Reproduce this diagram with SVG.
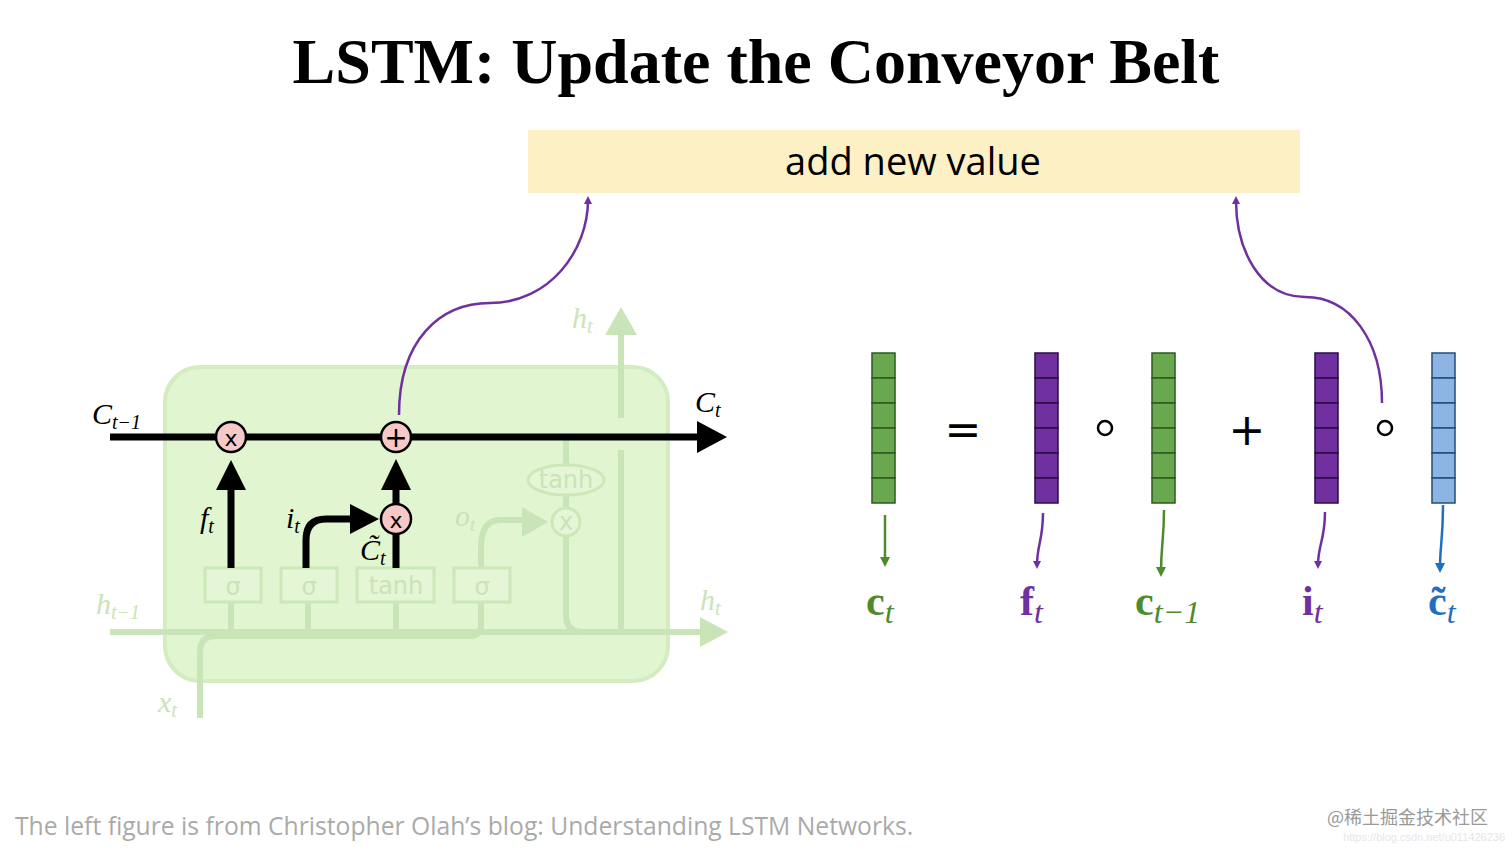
<svg xmlns="http://www.w3.org/2000/svg" width="1512" height="851" viewBox="0 0 1512 851">
<defs>
<style>
.f{stroke:#c9e4b6;fill:none;stroke-width:6}
.fb{fill:#e4f6d6;stroke:#cde8b8;stroke-width:3}
.ft{fill:#c9e4b6;font-family:"DejaVu Sans",sans-serif;font-size:24px}
.m{font-family:"Liberation Serif",serif;font-style:italic;font-size:30px}
.k{stroke:#000;stroke-width:7;fill:none}
.op{fill:#f6c8c8;stroke:#000;stroke-width:2.5}
.g{fill:#6aa84f;stroke:#2d5a1e;stroke-width:1.5}
.p{fill:#7030a0;stroke:#2a0c45;stroke-width:1.5}
.b{fill:#8eb4e3;stroke:#1f4e79;stroke-width:1.5}
.bl{font-family:"Liberation Serif",serif;font-weight:bold;font-size:42px}
.sub{font-family:"Liberation Serif",serif;font-style:italic;font-weight:normal;font-size:32px}
</style>
<marker id="ap" markerWidth="8" markerHeight="8" refX="4" refY="4" orient="auto" markerUnits="userSpaceOnUse"><path d="M0,0 L8,4 L0,8 Z" fill="#7030a0"/></marker>
<marker id="ag" markerWidth="10" markerHeight="10" refX="5" refY="5" orient="auto" markerUnits="userSpaceOnUse"><path d="M0,0 L10,5 L0,10 Z" fill="#4e8a2e"/></marker>
<marker id="ab" markerWidth="10" markerHeight="10" refX="5" refY="5" orient="auto" markerUnits="userSpaceOnUse"><path d="M0,0 L10,5 L0,10 Z" fill="#1f6fc0"/></marker>
</defs>
<rect width="1512" height="851" fill="#fff"/>
<text x="756" y="83" text-anchor="middle" font-family="Liberation Serif,serif" font-weight="bold" font-size="64">LSTM: Update the Conveyor Belt</text>
<g id="banner"><rect x="528" y="130" width="772" height="63" fill="#fdf0c4"/><text x="913" y="175" text-anchor="middle" font-family="Open Sans,sans-serif" font-size="38">add new value</text></g>
<g id="cell">
<rect x="165" y="367" width="503" height="314" rx="35" fill="#e0f5d0" stroke="#d3ecc0" stroke-width="4"/>
<path class="f" d="M110,632 H705"/><path d="M700,617 L728,632 L700,647Z" fill="#c9e4b6"/>
<path class="f" d="M200,718 V652 Q200,636 216,636 H470 Q481,636 481,625 V548 Q481,520 500,520 H525"/><path d="M522,507 L548,522 L522,537Z" fill="#c9e4b6"/>
<path class="f" d="M231,602 V632 M308,602 V632 M396,602 V632"/>
<path class="f" d="M566,452 V615 Q566,632 583,632 M566,437 V465 M566,495 V507"/>
<path class="f" d="M621,632 V450 M621,418 V335"/><path d="M605,335 L621,307 L637,335Z" fill="#c9e4b6"/>
<rect class="fb" x="205" y="568" width="56" height="34"/><rect class="fb" x="281" y="568" width="56" height="34"/><rect class="fb" x="357" y="568" width="77" height="34"/><rect class="fb" x="454" y="568" width="56" height="34"/>
<text class="ft" x="233" y="595" text-anchor="middle">σ</text><text class="ft" x="309" y="595" text-anchor="middle">σ</text><text class="ft" x="396" y="594" text-anchor="middle" font-size="22">tanh</text><text class="ft" x="482" y="595" text-anchor="middle">σ</text>
<ellipse class="fb" cx="566" cy="480" rx="38" ry="15"/><text class="ft" x="566" y="488" text-anchor="middle" font-size="22">tanh</text>
<circle class="fb" cx="566" cy="522" r="14"/><text class="ft" x="566" y="530" text-anchor="middle" font-size="20">x</text>
<path class="k" d="M110,437 H700"/><path d="M697,421 L727,437 L697,453Z"/>
<path class="k" d="M231,568 V488"/><path d="M216,490 L231,460 L246,490Z"/>
<path class="k" d="M306,568 V540 Q306,519 326,519 H352"/><path d="M350,504 L379,519 L350,534Z"/>
<path class="k" d="M396,568 V534 M396,504 V488"/><path d="M381,490 L396,459 L411,490Z"/>
<circle class="op" cx="231" cy="437" r="15"/><text x="231" y="446" text-anchor="middle" font-family="DejaVu Sans,sans-serif" font-size="22">x</text>
<circle class="op" cx="396" cy="437" r="15"/><text x="396" y="447" text-anchor="middle" font-family="DejaVu Sans,sans-serif" font-size="28">+</text>
<circle class="op" cx="396" cy="519" r="15"/><text x="396" y="528" text-anchor="middle" font-family="DejaVu Sans,sans-serif" font-size="22">x</text>
<text class="m" x="92" y="424">C<tspan font-size="20" dy="5">t−1</tspan></text>
<text class="m" x="695" y="412">C<tspan font-size="20" dy="5">t</tspan></text>
<text class="m" x="200" y="528">f<tspan font-size="20" dy="5">t</tspan></text>
<text class="m" x="286" y="528">i<tspan font-size="20" dy="5">t</tspan></text>
<text class="m" x="360" y="560">C̃<tspan font-size="20" dy="5">t</tspan></text>
<g fill="#c9e4b6"><text class="m" x="455" y="526" font-size="26">o<tspan font-size="18" dy="5">t</tspan></text>
<text class="m" x="572" y="328">h<tspan font-size="20" dy="5">t</tspan></text>
<text class="m" x="96" y="614">h<tspan font-size="20" dy="5">t−1</tspan></text>
<text class="m" x="700" y="610">h<tspan font-size="20" dy="5">t</tspan></text>
<text class="m" x="158" y="712">x<tspan font-size="20" dy="5">t</tspan></text></g>
</g>
<g id="vectors">
<g class="g"><rect x="872" y="353" width="23" height="25"/><rect x="872" y="378" width="23" height="25"/><rect x="872" y="403" width="23" height="25"/><rect x="872" y="428" width="23" height="25"/><rect x="872" y="453" width="23" height="25"/><rect x="872" y="478" width="23" height="25"/></g>
<g class="p"><rect x="1035" y="353" width="23" height="25"/><rect x="1035" y="378" width="23" height="25"/><rect x="1035" y="403" width="23" height="25"/><rect x="1035" y="428" width="23" height="25"/><rect x="1035" y="453" width="23" height="25"/><rect x="1035" y="478" width="23" height="25"/></g>
<g class="g"><rect x="1152" y="353" width="23" height="25"/><rect x="1152" y="378" width="23" height="25"/><rect x="1152" y="403" width="23" height="25"/><rect x="1152" y="428" width="23" height="25"/><rect x="1152" y="453" width="23" height="25"/><rect x="1152" y="478" width="23" height="25"/></g>
<g class="p"><rect x="1315" y="353" width="23" height="25"/><rect x="1315" y="378" width="23" height="25"/><rect x="1315" y="403" width="23" height="25"/><rect x="1315" y="428" width="23" height="25"/><rect x="1315" y="453" width="23" height="25"/><rect x="1315" y="478" width="23" height="25"/></g>
<g class="b"><rect x="1432" y="353" width="23" height="25"/><rect x="1432" y="378" width="23" height="25"/><rect x="1432" y="403" width="23" height="25"/><rect x="1432" y="428" width="23" height="25"/><rect x="1432" y="453" width="23" height="25"/><rect x="1432" y="478" width="23" height="25"/></g>
<g font-family="DejaVu Sans,sans-serif" font-size="44" text-anchor="middle"><text x="963" y="445">=</text><text x="1247" y="445">+</text></g>
<circle cx="1105" cy="428" r="7" fill="none" stroke="#000" stroke-width="2.5"/><circle cx="1385" cy="428" r="7" fill="none" stroke="#000" stroke-width="2.5"/>
<text class="bl" x="866" y="615" fill="#4e8a2e">c<tspan class="sub" dy="8">t</tspan></text>
<text class="bl" x="1020" y="615" fill="#7030a0">f<tspan class="sub" dy="8">t</tspan></text>
<text class="bl" x="1135" y="615" fill="#4e8a2e">c<tspan class="sub" dy="8">t−1</tspan></text>
<text class="bl" x="1302" y="615" fill="#7030a0">i<tspan class="sub" dy="8">t</tspan></text>
<text class="bl" x="1428" y="615" fill="#1f6fc0">c̃<tspan class="sub" dy="8">t</tspan></text>
</g>
<g id="connectors" fill="none" stroke-width="2.5">
<path d="M399,415 C399,340 440,303 490,303 C550,303 588,250 588,200" stroke="#7030a0" marker-end="url(#ap)"/>
<path d="M1382,403 C1382,340 1350,297 1305,297 C1260,297 1236,250 1236,200" stroke="#7030a0" marker-end="url(#ap)"/>
<path d="M885,515 V562" stroke="#4e8a2e" marker-end="url(#ag)"/>
<path d="M1043,513 C1043,540 1037,545 1037,565" stroke="#7030a0" marker-end="url(#ap)"/>
<path d="M1164,510 C1164,540 1161,545 1161,572" stroke="#4e8a2e" marker-end="url(#ag)"/>
<path d="M1325,512 C1325,540 1318,545 1318,565" stroke="#7030a0" marker-end="url(#ap)"/>
<path d="M1443,505 C1443,540 1440,545 1440,568" stroke="#1f6fc0" marker-end="url(#ab)"/>
</g>
<text x="15" y="835" font-family="Open Sans,sans-serif" font-size="24.7" fill="#aaa">The left figure is from Christopher Olah’s blog: Understanding LSTM Networks.</text>
<text x="1488" y="824" text-anchor="end" font-family="Noto Sans CJK SC,sans-serif" font-size="18" fill="#999">@稀土掘金技术社区</text>
<text x="1505" y="841" text-anchor="end" font-family="Liberation Sans,sans-serif" font-size="11" fill="#e6e6e6">https://blog.csdn.net/u011426236</text>
</svg>
